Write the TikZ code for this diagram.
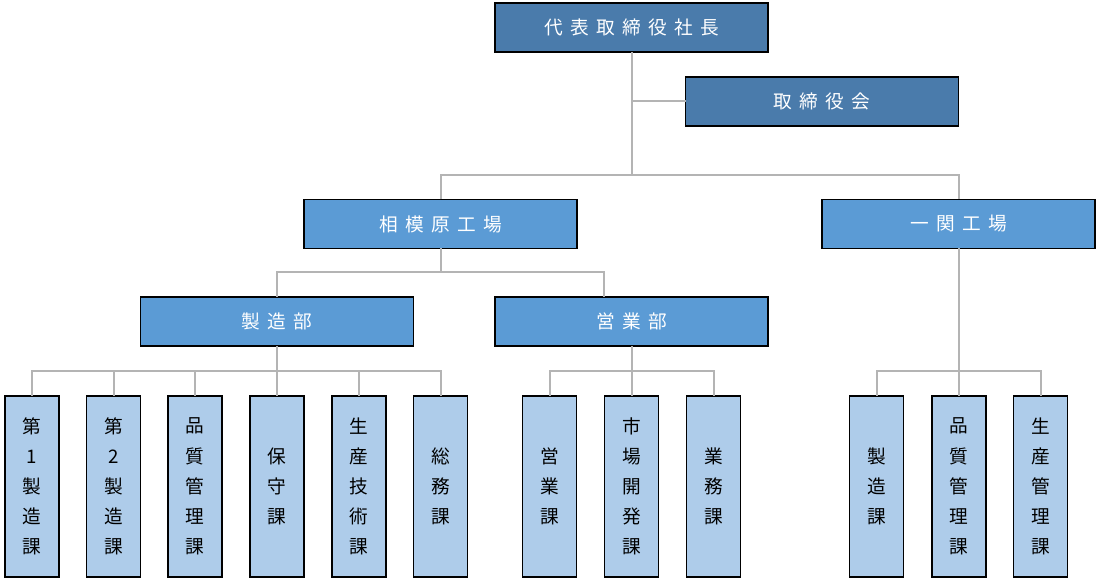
\documentclass[tikz,border=0pt]{standalone}
\usepackage{fontspec}
\setmainfont{Noto Sans CJK JP}
\newcommand\gp{\hspace{5.5pt}}
\definecolor{darkbox}{HTML}{4A7BAB}
\definecolor{midbox}{HTML}{5B9BD5}
\definecolor{lightbox}{HTML}{AECCEA}
\definecolor{linegray}{HTML}{B4B4B4}
\tikzset{
  headbox/.style={draw=black, line width=1.3pt, minimum width=204.75pt, minimum height=36.75pt,
    inner sep=0pt, outer sep=0pt, text=white, font=\fontsize{14}{16}\selectfont},
  topbox/.style={headbox, fill=darkbox},
  deptbox/.style={headbox, fill=midbox},
  secbox/.style={draw=black, line width=1.3pt, fill=lightbox, minimum width=40.5pt, minimum height=135.75pt,
    inner sep=0pt, outer sep=0pt, text=black, align=center, font=\fontsize{14}{22.6}\selectfont},
  conn/.style={draw=linegray, line width=1.5pt}
}
\begin{document}
\begin{tikzpicture}[x=0.75pt,y=-0.75pt]
\useasboundingbox (0,0) rectangle (1100,580);
% boxes
\node[topbox] (pres) at (631.5,27.5) {代\gp 表\gp 取\gp 締\gp 役\gp 社\gp 長};
\node[topbox] (board) at (822,101.5) {取\gp 締\gp 役\gp 会};
\node[deptbox] (sag) at (440.5,224) {相\gp 模\gp 原\gp 工\gp 場};
\node[deptbox] (ichi) at (958.5,224) {一\gp 関\gp 工\gp 場};
\node[deptbox] (seizo) at (277,321.5) {製\gp 造\gp 部};
\node[deptbox] (eigyo) at (631.5,321.5) {営\gp 業\gp 部};
% sections
\node[secbox] (s1) at (32,486.5) {第\\1\\製\\造\\課};
\node[secbox] (s2) at (113.5,486.5) {第\\2\\製\\造\\課};
\node[secbox] (s3) at (195,486.5) {品\\質\\管\\理\\課};
\node[secbox] (s4) at (277,486.5) {保\\守\\課};
\node[secbox] (s5) at (359,486.5) {生\\産\\技\\術\\課};
\node[secbox] (s6) at (440.5,486.5) {総\\務\\課};
\node[secbox] (e1) at (549.5,486.5) {営\\業\\課};
\node[secbox] (e2) at (631.5,486.5) {市\\場\\開\\発\\課};
\node[secbox] (e3) at (713.5,486.5) {業\\務\\課};
\node[secbox] (i1) at (876.5,486.5) {製\\造\\課};
\node[secbox] (i2) at (959,486.5) {品\\質\\管\\理\\課};
\node[secbox] (i3) at (1040.5,486.5) {生\\産\\管\\理\\課};
% junctions
\coordinate (j1) at (631.5,175);
\coordinate (j2) at (440.5,272);
\coordinate (et) at (604,297);
\coordinate (j3) at (277,371);
\coordinate (j4) at (631.5,371);
\coordinate (j5) at (958.5,371);
% connectors
\draw[conn] (pres.south) -- (j1);
\draw[conn] (board.west) -- (board.west -| pres.south);
\draw[conn] (sag.north) |- (j1) -| (ichi.north);
\draw[conn] (sag.south) -- (j2);
\draw[conn] (seizo.north) |- (j2) -| (et);
\draw[conn] (seizo.south) -- (j3);
\foreach \c in {s1,s2,s3,s4,s5,s6} \draw[conn] (j3) -| (\c.north);
\draw[conn] (eigyo.south) -- (j4);
\foreach \c in {e1,e2,e3} \draw[conn] (j4) -| (\c.north);
\draw[conn] (ichi.south) -- (j5);
\foreach \c in {i1,i2,i3} \draw[conn] (j5) -| (\c.north);
\end{tikzpicture}
\end{document}
